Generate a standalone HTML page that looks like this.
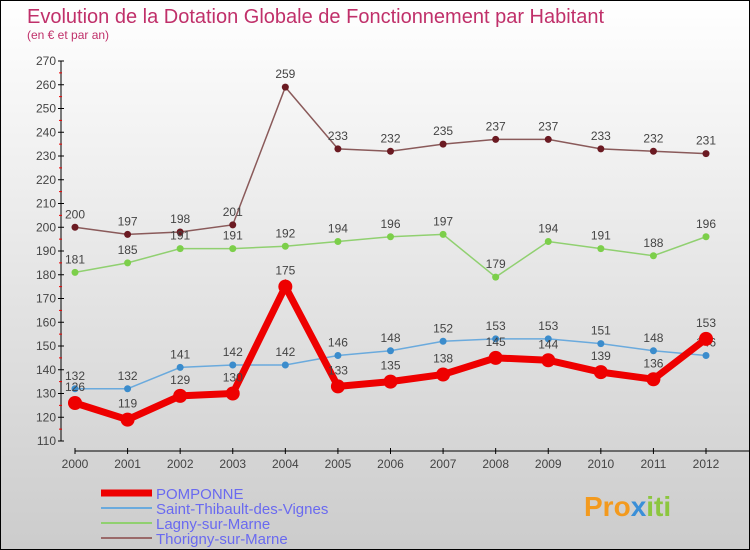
<!DOCTYPE html>
<html><head><meta charset="utf-8"><style>
body{margin:0}
#c{width:748px;height:548px;border:1px solid #000;background:linear-gradient(#fff,#ccc);position:relative;font-family:"Liberation Sans",sans-serif;overflow:hidden}
</style></head><body>
<div id="c">
<svg id="s" width="748" height="548" xmlns="http://www.w3.org/2000/svg">
<text x="26" y="22" font-size="20" fill="#c0306a">Evolution de la Dotation Globale de Fonctionnement par Habitant</text>
<text x="26" y="38" font-size="12" fill="#c0306a">(en € et par an)</text>
<g id="axes"></g><g id="series"></g><g id="legend"></g>
<text x="583" y="515" font-size="28" font-weight="bold" fill="#f39a1e">Pro<tspan fill="#3a8fd8">x</tspan><tspan fill="#8cc63f">iti</tspan></text>
</svg></div>
<script>
const years=[2000,2001,2002,2003,2004,2005,2006,2007,2008,2009,2010,2011,2012];
const yTicks=[110,120,130,140,150,160,170,180,190,200,210,220,230,240,250,260,270];
const pomponne=[126,119,129,130,175,133,135,138,145,144,139,136,153];
const saintThibault=[132,132,141,142,142,146,148,152,153,153,151,148,146];
const lagny=[181,185,191,191,192,194,196,197,179,194,191,188,196];
const thorigny=[200,197,198,201,259,233,232,235,237,237,233,232,231];
const names=["POMPONNE","Saint-Thibault-des-Vignes","Lagny-sur-Marne","Thorigny-sur-Marne"];
const NS="http://www.w3.org/2000/svg";
const X=i=>74+i*(705-74)/12;
const Y=v=>440-(v-110)*(440-60)/160;
function mk(t,a,p){const e=document.createElementNS(NS,t);for(const k in a)e.setAttribute(k,a[k]);p.appendChild(e);return e;}
const ax=document.getElementById('axes');
const yl=mk('line',{x1:60,y1:60,x2:60,y2:440,stroke:'#000'},ax);


const xl=mk('line',{x1:74,y1:450,x2:748,y2:450,stroke:'#000'},ax);


yTicks.forEach((v,i)=>{
 mk('line',{x1:57,x2:63,y1:Y(v),y2:Y(v),stroke:'#000'},ax);
 if(i<yTicks.length-1)mk('line',{x1:58,x2:61,y1:Y(v+5),y2:Y(v+5),stroke:'#e00'},ax);
 const t=mk('text',{x:55,y:Y(v)+4,'font-size':12,'text-anchor':'end',fill:'#444'},ax);t.textContent=v;
 
 
});
years.forEach((y,i)=>{
 mk('line',{x1:X(i),x2:X(i),y1:447,y2:453,stroke:'#000'},ax);
 const t=mk('text',{x:X(i),y:467,'font-size':12,'text-anchor':'middle',fill:'#444'},ax);t.textContent=y;
 
 
});
const sg=document.getElementById('series');
const defs=[[thorigny,'#6b1a22','#8a5a5a',1.5,3.5,'thorigny'],[lagny,'#7ccf4a','#90d070',1.5,3.5,'lagny'],[saintThibault,'#3b8ccc','#6aaadd',1.5,3.5,'saint-thibault'],[pomponne,'#ee0000','#ee0000',7,7,'pomponne']];
defs.forEach(([d,c,lc,w,r,n])=>{
 const g=mk('g',{},sg);
 
 
 const p=mk('polyline',{points:d.map((v,i)=>X(i)+','+Y(v)).join(' '),fill:'none',stroke:lc,'stroke-width':w},g);
 
 
 d.forEach((v,i)=>{
  const ci=mk('circle',{cx:X(i),cy:Y(v),r:r,fill:c},g);
  
  
  const t=mk('text',{x:X(i),y:Y(v)-(n=='pomponne'?12:9),'font-size':12,'text-anchor':'middle',fill:'#444'},g);t.textContent=v;
  
  
 });
});
const lg=document.getElementById('legend');
const lc=['#ee0000','#6aaadd','#90d070','#9a6a6a'],lw=[7,2,2,2];
names.forEach((nm,i)=>{
 const y=492+i*15;
 const l=mk('line',{x1:100,x2:151,y1:y,y2:y,stroke:lc[i],'stroke-width':lw[i]},lg);
 
 
 const t=mk('text',{x:155,y:y+6,'font-size':15,fill:'#6a6af0'},lg);t.textContent=nm;
 
 
});
</script></body></html>
